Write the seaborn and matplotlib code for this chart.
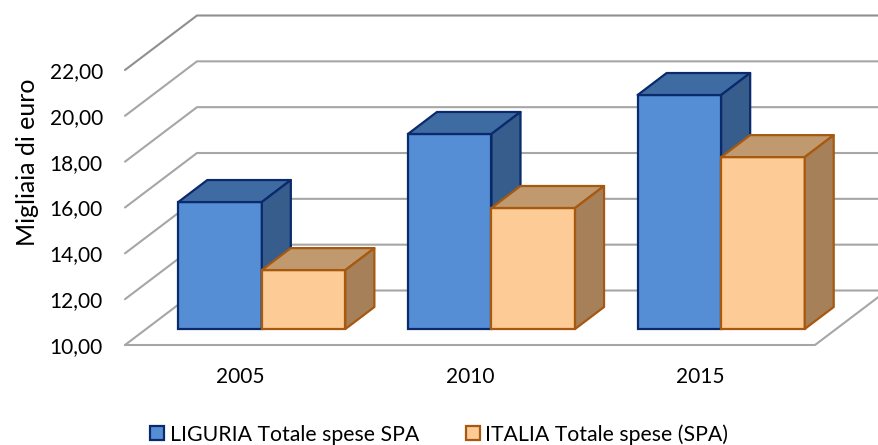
import matplotlib
matplotlib.use("Agg")
from matplotlib import pyplot as plt
from matplotlib.patches import Polygon
import seaborn as sns
import pandas as pd

anni = ["2005", "2010", "2015"]
liguria = [15.54, 18.51, 20.21]
italia = [12.57, 15.28, 17.50]
serie = ["LIGURIA Totale spese SPA", "ITALIA Totale spese (SPA)"]
tick_values = [10, 12, 14, 16, 18, 20, 22]
tick_labels = ["10,00", "12,00", "14,00", "16,00", "18,00", "20,00", "22,00"]

sns.set_theme(style="white")
plt.rcParams['font.family'] = ['Lato', 'DejaVu Sans']

W, H = 879, 445
fig = plt.figure(figsize=(W / 100, H / 100), dpi=100)

# px -> figure fractions
def box(left, right, top, bottom):
    return [left / W, 1 - bottom / H, (right - left) / W, (bottom - top) / H]

# piano frontale con assi e griglia
fr = fig.add_axes(box(125, 815, 70, 345))
fr.set_xlim(-0.5, 2.5)
fr.set_ylim(10, 22)
fr.set_xticks(range(3), anni)
fr.set_yticks(tick_values, tick_labels)
fr.tick_params(axis="both", length=0, labelsize=15, colors="black")
fr.tick_params(axis="x", pad=15.5)
fr.tick_params(axis="y", pad=16)
fr.set_ylabel("Migliaia di euro", fontsize=18, color="black")
fr.yaxis.set_label_coords((39 - 125) / 690, (345 - 162) / 275)
sns.despine(ax=fr, left=True, bottom=True)

depth_x = 72 / 230
depth_y = 54.5 / 22.92
griglia = "#a6a6a6"
for v in tick_values:
    col = "#8f8f8f" if v == 22 else griglia
    fr.plot([-0.5, -0.5 + depth_x, 2.5 + depth_x + 0.1], [v, v + depth_y, v + depth_y],
            color=col, lw=1.5, clip_on=False, solid_joinstyle="miter")
fr.plot([-0.5, 2.5, 2.5 + depth_x], [10, 10, 10 + depth_y], color=griglia, lw=1.5,
        clip_on=False, solid_joinstyle="miter")

# piano delle barre, spostato in profondita
ax = fig.add_axes(box(147, 836, 54, 329))
ax.patch.set_alpha(0)
df = pd.DataFrame({
    "anno": anni * 2,
    "valore": liguria + italia,
    "serie": [serie[0]] * 3 + [serie[1]] * 3,
})
fronte = ["#558ed5", "#fdcb95"]
sopra = ["#3f6ba3", "#c09a6e"]
lato = ["#375d8c", "#a68059"]
bordo = ["#0a2a6b", "#a6590f"]
sns.barplot(data=df, x="anno", y="valore", hue="serie", palette=fronte, saturation=1,
            width=0.7275, gap=0, ax=ax)
ax.set_ylim(10, 22)
ax.set_axis_off()
handles, labels = ax.get_legend_handles_labels()
ax.get_legend().remove()

bar_dx = 29 / 229.65
bar_dy = 22 / 22.92
z = 3
for n in range(3):
    for i, cont in enumerate(ax.containers):
        p = cont.patches[n]
        top = p.get_height()
        p.set_y(10)
        p.set_height(top - 10)
        p.set(edgecolor=bordo[i], linewidth=1.6, clip_on=False, zorder=z)
        x0 = p.get_x()
        x1 = x0 + p.get_width()
        ax.add_patch(Polygon([(x0, top), (x1, top), (x1 + bar_dx, top + bar_dy), (x0 + bar_dx, top + bar_dy)],
                             facecolor=sopra[i], edgecolor=bordo[i], lw=1.6, clip_on=False, zorder=z + 1,
                             joinstyle="round"))
        ax.add_patch(Polygon([(x1, 10), (x1 + bar_dx, 10 + bar_dy), (x1 + bar_dx, top + bar_dy), (x1, top)],
                             facecolor=lato[i], edgecolor=bordo[i], lw=1.6, clip_on=False, zorder=z + 1,
                             joinstyle="round"))
        z += 2

for h, c in zip(handles, bordo):
    h.set_edgecolor(c)
    h.set_linewidth(1.6)
leg = fig.legend(handles, labels, loc="center left", bbox_to_anchor=(150 / W, 1 - 434.5 / H), ncol=2,
                 frameon=False, fontsize=15.3, handlelength=0.66, handleheight=0.66, handletextpad=0.26,
                 columnspacing=2.2, borderpad=0, borderaxespad=0, labelcolor="black")

fig.savefig("out.png", dpi=100)
